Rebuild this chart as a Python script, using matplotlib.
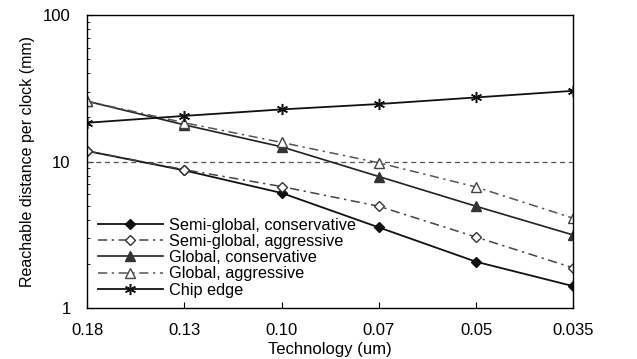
import matplotlib
matplotlib.use("Agg")
import matplotlib.pyplot as plt

plt.rcParams['font.family'] = ['Liberation Sans', 'DejaVu Sans']

tech = ["0.18", "0.13", "0.10", "0.07", "0.05", "0.035"]
semi_cons = [11.8, 8.7, 6.1, 3.55, 2.07, 1.41]
semi_aggr = [11.8, 8.8, 6.75, 4.95, 3.05, 1.88]
glob_cons = [25.8, 17.8, 12.6, 7.9, 4.95, 3.15]
glob_aggr = [25.8, 18.4, 13.5, 9.8, 6.7, 4.1]
chip_edge = [18.4, 20.5, 22.7, 24.7, 27.4, 30.4]
ref_line = [10, 10, 10, 10, 10, 10]

fig = plt.figure(figsize=(6.37, 3.59), dpi=100)
ax = fig.add_axes([0.137, 0.142, 0.763, 0.816])

x = range(len(tech))
dashdot = (0, (6, 3, 1.5, 3))

ax.plot(x, ref_line, color="#555555", lw=0.9, ls=(0, (4, 3)))
ax.plot(x, semi_cons, color="#111111", lw=1.3, marker="D", ms=5,
        mfc="#111111", mec="#111111", label="Semi-global, conservative")
ax.plot(x, semi_aggr, color="#444444", lw=1.1, ls=dashdot, marker="D", ms=5,
        mfc="white", mec="#333333", label="Semi-global, aggressive")
ax.plot(x, glob_cons, color="#222222", lw=1.2, marker="^", ms=6.5,
        mfc="#333333", mec="#333333", label="Global, conservative")
ax.plot(x, glob_aggr, color="#555555", lw=1.1, ls=dashdot, marker="^", ms=6.5,
        mfc="white", mec="#444444", label="Global, aggressive")
ax.plot(x, chip_edge, color="#111111", lw=1.3, marker=(6, 2, 0), ms=8,
        mec="#111111", mew=1.1, label="Chip edge")

ax.set_yscale("log")
ax.set_ylim(1, 100)
ax.set_xlim(0, len(tech) - 1)
ax.set_xticks(list(x))
ax.set_xticklabels(tech)
ax.set_yticks([1, 10, 100])
ax.set_yticklabels(["1", "10", "100"])
ax.tick_params(axis="both", direction="in", labelsize=12, length=4)
ax.tick_params(axis="x", pad=11)
ax.tick_params(axis="y", pad=12)
ax.tick_params(axis="y", which="minor", direction="in", length=2)

for s in ax.spines.values():
    s.set_linewidth(1.0)

ax.set_xlabel("Technology (um)", fontsize=12, labelpad=2.5)
ax.set_ylabel("Reachable distance per clock (mm)", fontsize=11.5, labelpad=6)

ax.legend(loc="lower left", bbox_to_anchor=(0.022, 0.035), frameon=False,
          fontsize=11.7, handlelength=4.0, handletextpad=0.4,
          labelspacing=0.08, borderpad=0, borderaxespad=0)

fig.savefig("out.png", dpi=100)
